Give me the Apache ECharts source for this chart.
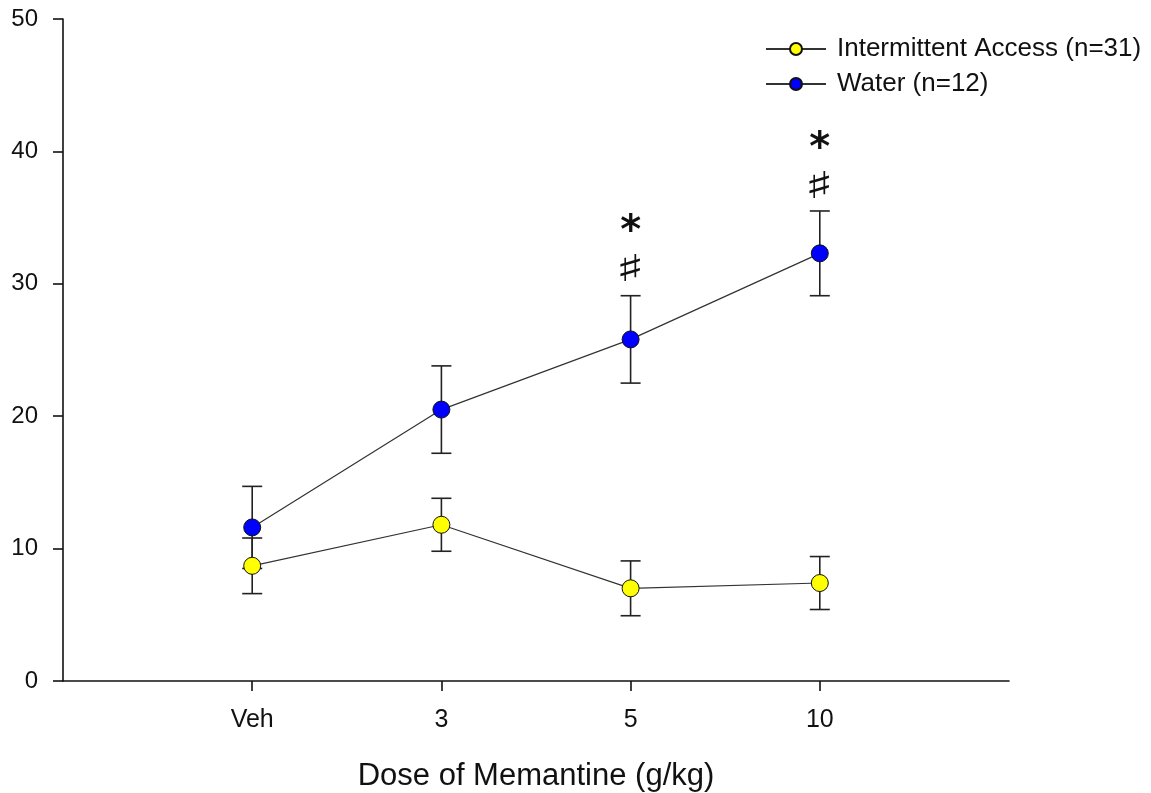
<!DOCTYPE html>
<html>
<head>
<meta charset="utf-8">
<script src="https://cdn.jsdelivr.net/npm/echarts@6/dist/echarts.min.js"></script>
<style>html,body{margin:0;padding:0;background:#fff;}#c{width:1151px;height:793px;}</style>
</head>
<body>
<div id="c"></div>
<script>
var categories = ['Veh', '3', '5', '10'];
var catPositions = [1, 2, 3, 4];
var iaMean = [8.7, 11.8, 7.0, 7.4];
var iaErr = [2.1, 2.0, 2.07, 2.0];
var waterMean = [11.6, 20.5, 25.8, 32.3];
var waterErr = [3.1, 3.3, 3.3, 3.2];
var yTicks = [0, 10, 20, 30, 40, 50];
var annotations = [
  {pos: 3, y: 33.9, text: '*'},
  {pos: 3, y: 30.9, text: '\u266F'},
  {pos: 4, y: 40.1, text: '*'},
  {pos: 4, y: 37.2, text: '\u266F'}
];

function pairs(means) { return catPositions.map(function (p, i) { return [p, means[i]]; }); }
function errs(means, e) { return catPositions.map(function (p, i) { return [p, means[i] - e[i], means[i] + e[i]]; }); }

function errRender(params, api) {
  var x = api.value(0);
  var lo = api.coord([x, api.value(1)]);
  var hi = api.coord([x, api.value(2)]);
  var hw = 10;
  var st = {stroke: '#222', lineWidth: 1.6};
  return {
    type: 'group',
    children: [
      {type: 'line', shape: {x1: lo[0], y1: lo[1], x2: hi[0], y2: hi[1]}, style: st},
      {type: 'line', shape: {x1: lo[0] - hw, y1: lo[1], x2: lo[0] + hw, y2: lo[1]}, style: st},
      {type: 'line', shape: {x1: hi[0] - hw, y1: hi[1], x2: hi[0] + hw, y2: hi[1]}, style: st}
    ]
  };
}

var chart = echarts.init(document.getElementById('c'), null, {renderer: 'canvas'});
var font = 'Liberation Sans, Arial, sans-serif';
chart.setOption({
  backgroundColor: '#fff',
  animation: false,
  textStyle: {fontFamily: font},
  grid: {left: 63, right: 142, top: 19, bottom: 112, containLabel: false, outerBoundsMode: 'none'},
  legend: {
    left: 760, top: 31, orient: 'vertical', itemGap: 9,
    itemWidth: 60, itemHeight: 15,
    textStyle: {fontSize: 26, color: '#111', fontFamily: font, padding: [0, 0, 0, 6]},
    data: ['Intermittent Access (n=31)', 'Water (n=12)']
  },
  xAxis: {
    type: 'value', min: 0, max: 5, interval: 1,
    name: 'Dose of Memantine (g/kg)', nameLocation: 'middle', nameGap: 80,
    nameTextStyle: {fontSize: 31, color: '#111', fontFamily: font},
    axisLine: {show: true, onZero: false, lineStyle: {color: '#111', width: 1.6}},
    axisTick: {show: true, inside: false, length: 10, customValues: catPositions, lineStyle: {color: '#111', width: 1.6}},
    axisLabel: {fontSize: 25, color: '#111', margin: 27, customValues: catPositions,
      formatter: function (v) { var i = catPositions.indexOf(v); return i >= 0 ? categories[i] : ''; }},
    splitLine: {show: false}
  },
  yAxis: {
    type: 'value', min: 0, max: 50, interval: 10,
    axisLine: {show: true, lineStyle: {color: '#111', width: 1.6}},
    axisTick: {show: true, inside: false, length: 10, lineStyle: {color: '#111', width: 1.6}},
    axisLabel: {fontSize: 24, color: '#111', margin: 25, customValues: yTicks},
    splitLine: {show: false}
  },
  series: [
    {type: 'custom', name: 'errIA', renderItem: errRender, data: errs(iaMean, iaErr), z: 2, silent: true},
    {type: 'custom', name: 'errW', renderItem: errRender, data: errs(waterMean, waterErr), z: 2, silent: true},
    {
      type: 'line', name: 'Intermittent Access (n=31)', data: pairs(iaMean), z: 3,
      symbol: 'circle', symbolSize: 17,
      lineStyle: {color: '#333', width: 1.2},
      itemStyle: {color: '#ffff00', borderColor: '#111', borderWidth: 1}
    },
    {
      type: 'line', name: 'Water (n=12)', data: pairs(waterMean), z: 4,
      symbol: 'circle', symbolSize: 17,
      lineStyle: {color: '#333', width: 1.2},
      itemStyle: {color: '#0000ff', borderColor: '#111', borderWidth: 1}
    },
    {
      type: 'custom', name: 'annot', silent: true, z: 5,
      data: annotations.map(function (a) { return [a.pos, a.y]; }),
      renderItem: function (params, api) {
        var p = api.coord([api.value(0), api.value(1)]);
        var t = annotations[params.dataIndex].text;
        var star = t === '*';
        return {
          type: 'text',
          x: p[0], y: p[1],
          scaleX: star ? 1 : 1.7,
          style: {x: 0, y: 0, text: t, align: 'center', verticalAlign: 'middle',
            fill: '#111', font: (star ? 'bold 40px ' : 'bold 37px ') + 'DejaVu Sans, sans-serif'}
        };
      }
    }
  ]
});
</script>
</body>
</html>
